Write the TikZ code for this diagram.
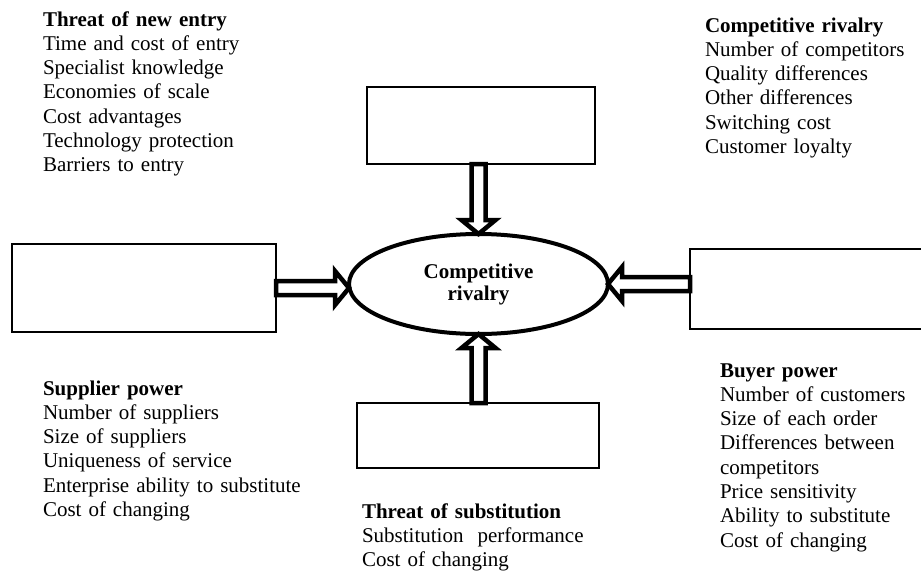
\documentclass[tikz,border=0pt]{standalone}
\usepackage{fontspec}
\setmainfont{Liberation Serif}
\usetikzlibrary{calc,shapes.geometric}
\tikzset{
  box/.style={draw=black, line width=2pt, fill=white, inner sep=0pt, outer sep=0pt},
  hub/.style={ellipse, draw=black, line width=4pt, inner sep=0pt, outer sep=0pt,
    minimum width=259pt, minimum height=100pt, align=center,
    font=\fontsize{21}{22}\selectfont\bfseries},
  blockarrow/.style={draw=black, fill=white, line width=4.5pt, line join=miter},
  txt/.style={anchor=base west, inner sep=0pt, outer sep=0pt, align=left,
    font=\fontsize{21}{24.3}\selectfont}
}
\newcommand\blockarrow[2]{%
  \coordinate (bac) at ($(#2)!14pt!(#1)$);
  \draw[blockarrow] ($(#1)!7pt!90:(#2)$) -- ($(bac)!7pt!90:(#2)$)
    -- ($(bac)!17pt!90:(#2)$) -- (#2) -- ($(bac)!17pt!-90:(#2)$)
    -- ($(bac)!7pt!-90:(#2)$) -- ($(#1)!7pt!-90:(#2)$) -- cycle;
}
\begin{document}
\begin{tikzpicture}[x=1pt,y=-1pt]
\useasboundingbox (0,0) rectangle (921,571);
\clip (0,0) rectangle (921,571);
% boxes
\node[box, minimum width=228pt, minimum height=77pt] (tbox) at (481,125.5) {};
\node[box, minimum width=264pt, minimum height=88pt] (lbox) at (144,288) {};
\node[box, minimum width=235pt, minimum height=80pt] (rbox) at (807.5,289) {};
\node[box, minimum width=242pt, minimum height=65pt] (sbox) at (478,435.5) {};
% hub
\node[hub] (ell) at (478.5,284) {Competitive\\rivalry};
% arrows
\coordinate (ta) at (tbox.south -| ell.north);
\coordinate (la) at (lbox.east);
\coordinate (lb) at (ell.west |- lbox.east);
\coordinate (ra) at (rbox.west |- ell.east);
\coordinate (sa) at (sbox.north -| ell.south);
\blockarrow{ta}{ell.north}
\blockarrow{la}{lb}
\blockarrow{ra}{ell.east}
\blockarrow{sa}{ell.south}
% texts
\node[txt, text width=300pt] (tne) at (43,26) {\textbf{Threat of new entry}\\Time and cost of entry\\Specialist knowledge\\Economies of scale\\Cost advantages\\Technology protection\\Barriers to entry};
\node[txt, text width=214pt] (cr) at (705,32) {\textbf{Competitive rivalry}\\Number of competitors\\Quality differences\\Other differences\\Switching cost\\Customer loyalty};
\node[txt, text width=300pt] (sp) at (43,395) {\textbf{Supplier power}\\Number of suppliers\\Size of suppliers\\Uniqueness of service\\Enterprise ability to substitute\\Cost of changing};
\node[txt, text width=300pt] (ts) at (362,518) {\textbf{Threat of substitution}\\Substitution~ performance\\Cost of changing};
\node[txt, text width=200pt] (bp) at (720,377) {\textbf{Buyer power}\\Number of customers\\Size of each order\\Differences between\\competitors\\Price sensitivity\\Ability to substitute\\Cost of changing};
\end{tikzpicture}
\end{document}
